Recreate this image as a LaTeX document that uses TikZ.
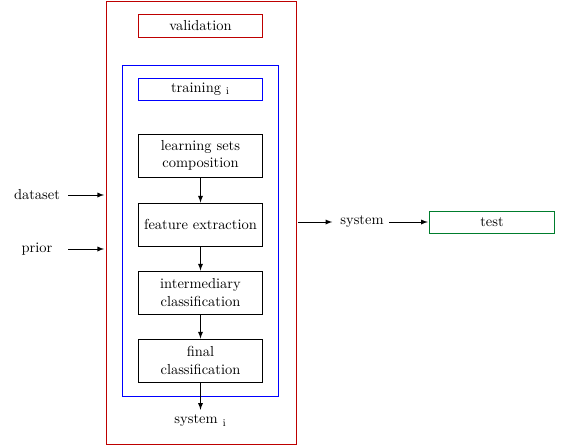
\documentclass[tikz,border=0pt]{standalone}
\usetikzlibrary{arrows}

\definecolor{valred}{RGB}{190,0,0}
\definecolor{trainblue}{RGB}{0,0,255}
\definecolor{testgreen}{RGB}{0,125,45}

\tikzset{
  stage/.style={draw, minimum width=86pt, minimum height=29.7pt, align=center, inner sep=1pt},
  tag/.style={draw, minimum width=86pt, minimum height=15.5pt, inner sep=1pt},
  frame/.style={draw=#1, line width=0.65pt},
  flow/.style={-latex}
}

\begin{document}
\begin{tikzpicture}[x=0.69pt, y=-0.69pt, line width=0.6pt]
            \useasboundingbox (0,0) rectangle (561,447);

            \node[frame=valred, minimum width=131.1pt, minimum height=305.7pt] (outer) at (201,222.5) {};
            \node[tag, frame=valred] (valid) at (200.5,26) {validation};
            \node[frame=trainblue, minimum width=107pt, minimum height=229pt] (inner) at (200.5,231) {};
            \node[tag, frame=trainblue] (train) at (200.5,89.5) {training $_\mathrm{i}$};

            \node[stage] (learn) at (200.5,155.5) {learning sets\\composition};
            \node[stage] (feat) at (200.5,224.5) {feature extraction};
            \node[stage] (inter) at (200.5,292.5) {intermediary\\classification};
            \node[stage] (final) at (200.5,360.5) {final\\classification};
            \node (sysi) at (200.5,421) {system $_\mathrm{i}$};

            \foreach \a/\b in {learn/feat, feat/inter, inter/final}
            \draw[flow] (\a.south) -- (\b.north);
            \draw[flow] (final.south) -- (sysi.north);

            \node (dataset) at (37,195) {dataset};
            \node (prior) at (37,249) {prior};
            \draw[flow, shorten <=2pt, shorten >=1pt] (dataset.east) -- (dataset -| outer.west);
            \draw[flow, shorten <=2pt, shorten >=1pt] (prior -| dataset.east) -- (prior -| outer.west);

            \node (system) at (362,222) {system};
            \node[tag, frame=testgreen] (test) at (492,222.5) {test};
            \draw[flow, shorten <=1pt, shorten >=2pt] (system -| outer.east) -- (system.west);
            \draw[flow, shorten >=1pt] (system.east) -- (system -| test.west);
\end{tikzpicture}
\end{document}
